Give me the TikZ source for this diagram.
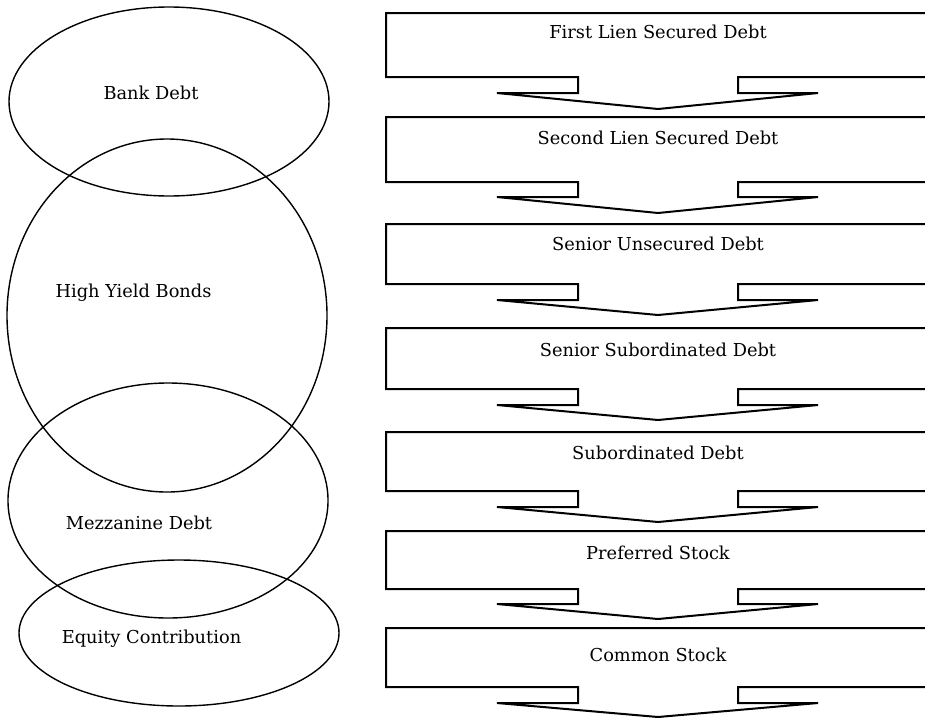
\documentclass[tikz,border=0pt]{standalone}
\usepackage{fontspec}
\setmainfont{DejaVu Serif}
\usetikzlibrary{shapes.geometric}
\tikzset{
  tier/.style={draw=black, line width=2pt, line join=miter, fill=white},
  band/.style={draw=black, line width=1.4pt, ellipse, inner sep=0pt, minimum width=320pt},
  lbl/.style={anchor=base, inner sep=0pt, font=\fontsize{17.8}{21}\selectfont}
}
\newcommand{\tierbox}[5]{%
  % #1 name, #2 top, #3 bottom, #4 notch, #5 tip
  \draw[tier] (930,#2) -- (386,#2) -- (386,#3) -- (578,#3) -- (578,#4) -- (497,#4)
    -- (658,#5) -- (818,#4) -- (738,#4) -- (738,#3) -- (930,#3) -- cycle;
  \coordinate (#1) at (658,#2);
}
\begin{document}
\begin{tikzpicture}[x=1pt,y=-1pt]
\clip (0,0) rectangle (925,718);
\useasboundingbox (0,0) rectangle (925,718);
% ellipses
\node[band, minimum height=189pt] (bank) at (169,101.5) {};
\node[band, minimum height=353pt] (hy) at (167,315.5) {};
\node[band, minimum height=235pt] (mezz) at (168,500.5) {};
\node[band, minimum height=146pt] (eq) at (179,633) {};
\node[lbl] (tbank) at (151,99.3) {Bank Debt};
\node[lbl] (thy) at (133.5,297.5) {High Yield Bonds};
\node[lbl] (tmezz) at (139,529) {Mezzanine Debt};
\node[lbl] (teq) at (151.5,643.5) {Equity Contribution};
% tiers
\tierbox{b1}{13}{77}{93}{109}
\tierbox{b2}{117}{182}{197}{213}
\tierbox{b3}{224}{284}{300}{315}
\tierbox{b4}{328}{389}{405}{420}
\tierbox{b5}{432}{491}{507}{522}
\tierbox{b6}{531}{589}{604}{619}
\tierbox{b7}{628}{687}{703}{717}
\node[lbl] (t1) at (658,38.3) {First Lien Secured Debt};
\node[lbl] (t2) at (658,144.5) {Second Lien Secured Debt};
\node[lbl] (t3) at (658,250) {Senior Unsecured Debt};
\node[lbl] (t4) at (658,356) {Senior Subordinated Debt};
\node[lbl] (t5) at (658,459) {Subordinated Debt};
\node[lbl] (t6) at (658,559.5) {Preferred Stock};
\node[lbl] (t7) at (658,661.5) {Common Stock};
\end{tikzpicture}
\end{document}
